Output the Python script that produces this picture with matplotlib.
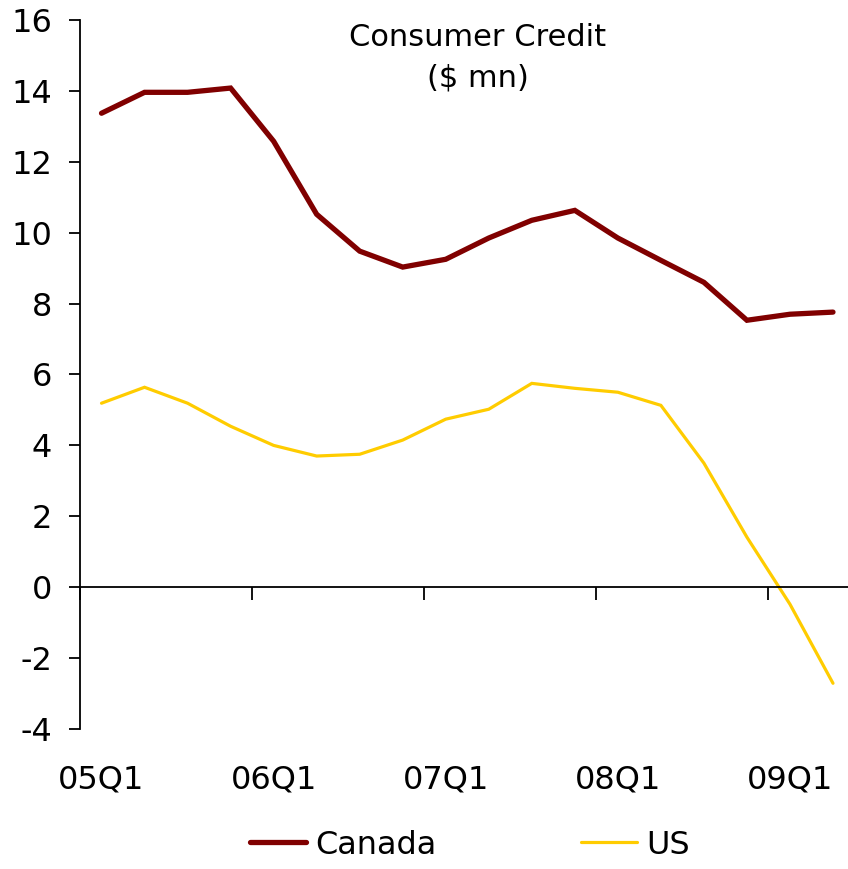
import matplotlib.pyplot as plt
from matplotlib.lines import Line2D
import matplotlib.transforms as mtrans

quarters = ['05Q1', '05Q2', '05Q3', '05Q4', '06Q1', '06Q2', '06Q3', '06Q4',
            '07Q1', '07Q2', '07Q3', '07Q4', '08Q1', '08Q2', '08Q3', '08Q4',
            '09Q1', '09Q2']
canada = [13.37, 13.96, 13.96, 14.08, 12.58, 10.52, 9.48, 9.03, 9.25,
          9.85, 10.35, 10.63, 9.85, 9.22, 8.6, 7.53, 7.7, 7.76]
us = [5.19, 5.64, 5.19, 4.54, 4.0, 3.70, 3.75, 4.15, 4.74,
      5.02, 5.75, 5.61, 5.5, 5.13, 3.5, 1.41, -0.48, -2.71]

plt.rcParams['font.family'] = ['Verdana', 'DejaVu Sans']
plt.rcParams['axes.unicode_minus'] = False

fig = plt.figure(figsize=(8.48, 8.69), dpi=100)
ax = fig.add_axes([80/848, 1-729/869, (854.5-80)/848, (729-20)/869])

x = list(range(len(quarters)))
ax.plot(x, canada, color='#800000', lw=3.8, solid_capstyle='round', solid_joinstyle='miter')
ax.plot(x, us, color='#FFCC00', lw=2.3, solid_capstyle='round', solid_joinstyle='miter')

ax.set_xlim(-0.5, len(quarters) - 0.5)
ax.set_ylim(-4, 16)
ax.set_yticks(range(-4, 17, 2))
ax.tick_params(axis='y', direction='out', length=8, width=1.3, labelsize=23, pad=12)

for s in ['top', 'right']:
    ax.spines[s].set_visible(False)
ax.spines['left'].set_linewidth(1.3)
ax.spines['bottom'].set_position(('data', 0))
ax.spines['bottom'].set_linewidth(1.3)

# tick marks between years, labels at each Q1 down below
ax.set_xticks([i - 0.5 for i in range(0, len(quarters), 4)])
ax.tick_params(axis='x', direction='out', length=9, width=1.3, labelbottom=False)
trans = mtrans.blended_transform_factory(ax.transData, fig.transFigure)
for i in range(0, len(quarters), 4):
    ax.text(i, 1 - 780/869, quarters[i], transform=trans, ha='center', va='center', fontsize=23)

fig.text(478/848, 1 - 37/869, 'Consumer Credit', ha='center', va='center', fontsize=22)
fig.text(478/848, 1 - 78/869, '($ mn)', ha='center', va='center', fontsize=22)

handles = [Line2D([], [], color='#800000', lw=3.8, solid_capstyle='round'),
           Line2D([], [], color='#FFCC00', lw=2.3, solid_capstyle='round')]
fig.legend(handles, ['Canada', 'US'], loc='center', bbox_to_anchor=(470/848, 1 - 845/869),
           ncol=2, frameon=False, fontsize=23, handlelength=1.75, handletextpad=0.3,
           columnspacing=4.5)

fig.savefig('out.png', dpi=100)
